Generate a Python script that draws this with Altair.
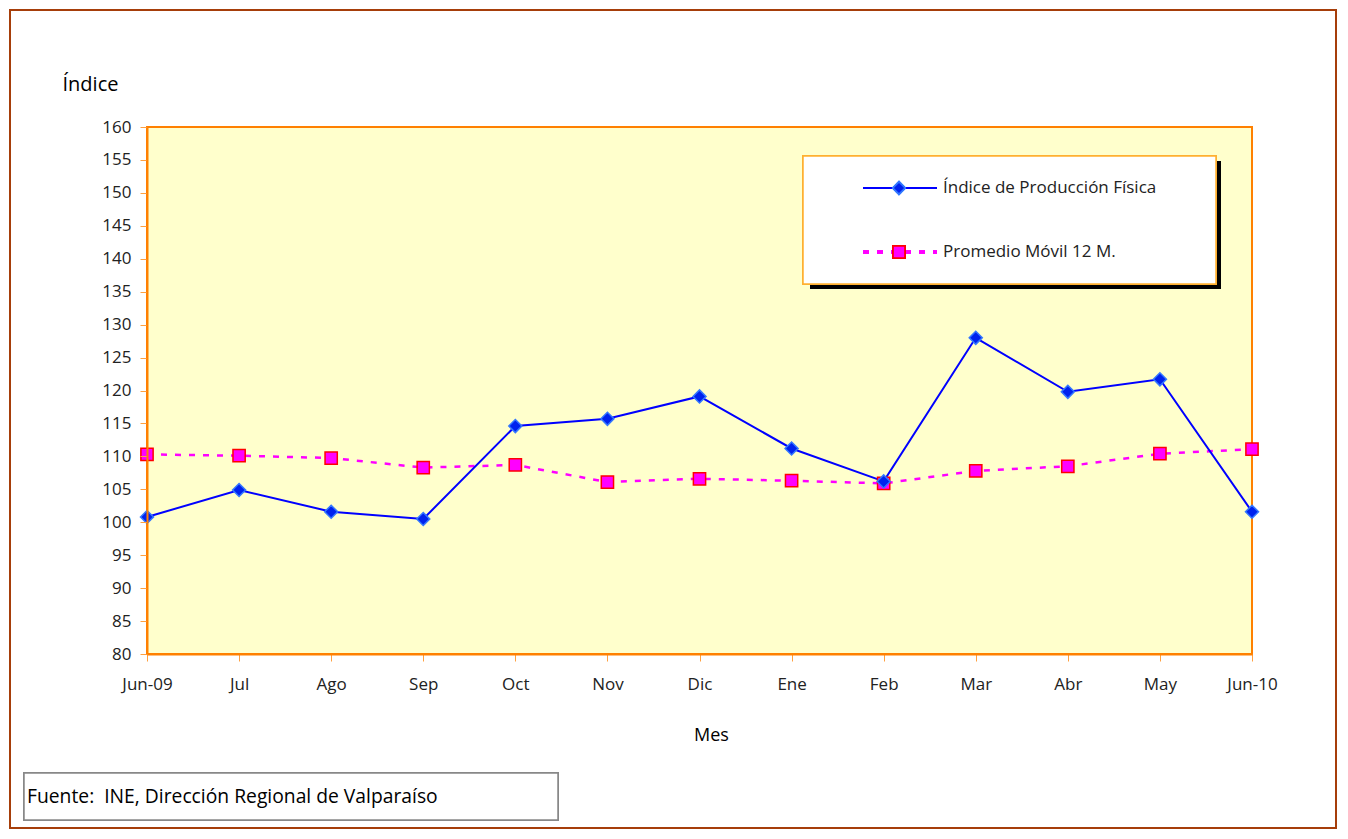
import altair as alt
import pandas as pd

meses = ["Jun-09", "Jul", "Ago", "Sep", "Oct", "Nov", "Dic", "Ene", "Feb", "Mar", "Abr", "May", "Jun-10"]
indice = [100.8, 104.9, 101.6, 100.5, 114.6, 115.7, 119.1, 111.2, 106.2, 128.0, 119.8, 121.7, 101.6]
promedio = [110.3, 110.1, 109.75, 108.3, 108.7, 106.1, 106.6, 106.3, 105.9, 107.8, 108.5, 110.4, 111.1]
series = ["Índice de Producción Física", "Promedio Móvil 12 M."]
y_ticks = list(range(80, 161, 5))
fuente = "Fuente:\u00a0 INE, Dirección Regional de Valparaíso"

FONT = "Open Sans"
W, H = 1105, 527

df = pd.DataFrame({"mes": meses, "indice": indice, "promedio": promedio})

xaxis = alt.Axis(title="Mes", labelAngle=0, labelFontSize=17, labelColor="#222222",
                 labelFont=FONT, labelPadding=23, labelFlush=False, labelOverlap=False,
                 labelBaseline="middle", labelAlign="center",
                 tickColor="#FFA040", tickSize=7,
                 domainColor="#FF8000", domainWidth=2, titleFont=FONT, titleFontSize=18,
                 titleFontWeight="normal", titleColor="#000000", titleX=564, titleY=81,
                 titleBaseline="middle", grid=False, zindex=2)
xscale = alt.Scale(type="point", padding=0)
yscale = alt.Scale(domain=[80, 160], nice=False, zero=False)
yaxis = alt.Axis(title="Índice", values=y_ticks, labelFontSize=17, labelColor="#222222", labelFont=FONT,
                 labelPadding=9, labelOverlap=False, labelFlush=False,
                 tickColor="#FFA040", tickSize=7, domainColor="#FF8000", domainWidth=2,
                 titleFont=FONT, titleFontSize=20, titleFontWeight="normal", titleColor="#000000",
                 titleAngle=0, titleX=-85, titleY=-43, titleAlign="left", titleBaseline="middle",
                 grid=False, zindex=2)

X = alt.X("mes:N", sort=meses, scale=xscale, axis=xaxis)
Y_ind = alt.Y("indice:Q", scale=yscale, axis=yaxis)
Y_pro = alt.Y("promedio:Q", scale=yscale, axis=yaxis)

base = alt.Chart(df)

# decorations: outer frame, source box, legend box
outer = base.mark_rect(fill="white", stroke="#A63E0A", strokeWidth=2).encode(
    x=alt.value(-137), x2=alt.value(1189), y=alt.value(-117), y2=alt.value(701))
plotbg = base.mark_rect(fill="#FFFFCC", stroke="#FF8000", strokeWidth=2).encode(
    x=alt.value(0), x2=alt.value(W), y=alt.value(0), y2=alt.value(H))
srcbox = base.mark_rect(fill="white", stroke="#888888", strokeWidth=1.5).encode(
    x=alt.value(-123), x2=alt.value(411), y=alt.value(646), y2=alt.value(693))
srctext = alt.Chart(pd.DataFrame({"t": [fuente]})).mark_text(
    align="left", baseline="middle", fontSize=19.3, font=FONT, color="#000000").encode(
    x=alt.value(-120), y=alt.value(670), text="t:N")

line_ind = base.mark_line(color="#0000FF", strokeWidth=2).encode(x=X, y=Y_ind)
pts_ind = base.mark_point(shape="diamond", size=170, filled=True, color="#0022EE",
                          stroke="#3377FF", strokeWidth=1.5, opacity=1).encode(x=X, y=Y_ind)
line_pro = base.mark_line(color="#FF00FF", strokeWidth=2.5, strokeDash=[6, 8]).encode(x=X, y=Y_pro)
pts_pro = base.mark_square(size=150, fill="#FF00FF", stroke="#FF0000", strokeWidth=1.5,
                           opacity=1).encode(x=X, y=Y_pro)

# legend
shadow = base.mark_rect(fill="#000000").encode(
    x=alt.value(663), x2=alt.value(1074), y=alt.value(34), y2=alt.value(162))
legbox = base.mark_rect(fill="white", stroke="#FFB030", strokeWidth=1.5).encode(
    x=alt.value(656), x2=alt.value(1069), y=alt.value(29), y2=alt.value(157))
leg_l1 = base.mark_rule(color="#0000FF", strokeWidth=2).encode(
    x=alt.value(716), x2=alt.value(790), y=alt.value(61))
leg_p1 = base.mark_point(shape="diamond", size=150, filled=True, color="#0022EE",
                         stroke="#3377FF", strokeWidth=1.5, opacity=1).encode(
    x=alt.value(752), y=alt.value(61))
leg_l2 = base.mark_rule(color="#FF00FF", strokeWidth=2.5, strokeDash=[6, 8]).encode(
    x=alt.value(716), x2=alt.value(790), y=alt.value(125))
leg_p2 = base.mark_square(size=140, fill="#FF00FF", stroke="#FF0000", strokeWidth=1.5, opacity=1).encode(
    x=alt.value(752), y=alt.value(125))
legtext = alt.Chart(pd.DataFrame({"s": series, "yy": [61, 125]})).mark_text(
    align="left", baseline="middle", fontSize=17, font=FONT, color="#222222").encode(
    x=alt.value(796), y=alt.Y("yy:Q", scale=None), text="s:N")

chart = alt.layer(
    outer, plotbg, srcbox, srctext, line_pro, line_ind, pts_pro, pts_ind,
    shadow, legbox, leg_l1, leg_p1, leg_l2, leg_p2, legtext
).properties(
    width=W, height=H,
    autosize=alt.AutoSizeParams(type="none"),
    padding={"left": 139, "top": 119, "right": 86, "bottom": 176},
).configure_view(stroke=None)

chart.save("out.html", embed_options={"renderer": "svg", "actions": False})
